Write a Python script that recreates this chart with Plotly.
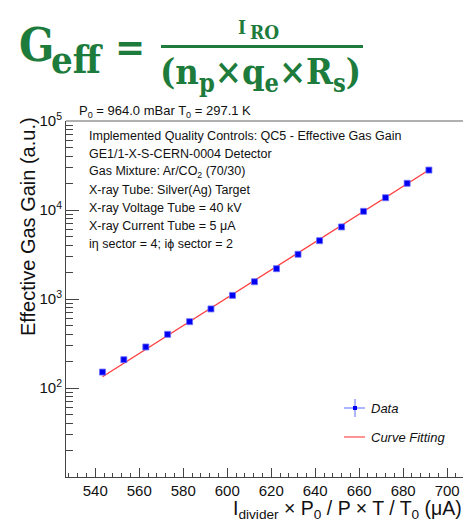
import plotly.graph_objects as go

# Corriente normalizada (uA) y ganancia efectiva medida
corriente = [543.3, 553.0, 563.0, 572.9, 582.9, 592.6, 602.4, 612.4,
             622.4, 632.2, 642.0, 652.0, 662.0, 672.0, 681.8, 691.7]
ganancia = [151, 208, 289, 401, 556, 773, 1097, 1563,
            2190, 3180, 4520, 6450, 9660, 13740, 19950, 28100]

# Curva de ajuste (exponencial, recta en escala log)
ajuste_x = [543.3, 691.7]
ajuste_y = [134, 28100]

y_ticks = [100, 1000, 10000, 100000]
y_ticktext = ["10<sup>2</sup>", "10<sup>3</sup>", "10<sup>4</sup>", "10<sup>5</sup>"]

info = [
    "Implemented Quality Controls: QC5 - Effective Gas Gain",
    "GE1/1-X-S-CERN-0004 Detector",
    "Gas Mixture: Ar/CO<sub>2</sub> (70/30)",
    "X-ray Tube: Silver(Ag) Target",
    "X-ray Voltage Tube = 40 kV",
    "X-ray Current Tube = 5 μA",
    "iη sector = 4; iϕ sector = 2",
]

W, H = 463, 519
L, T, B = 66, 121, 42
PW, PH = W - L, H - T - B


def px(x):
    return (x - L) / PW


def py(y):
    return (H - B - y) / PH


VERDE = "#1d7b3c"
SERIF = "DejaVu Serif Condensed, DejaVu Serif, serif"
SANS = "Liberation Sans, Arial, sans-serif"

fig = go.Figure()

fig.add_trace(go.Scatter(
    x=ajuste_x, y=ajuste_y, mode="lines",
    line=dict(color="#ff3b3b", width=1.3),
    showlegend=False, hoverinfo="skip"
))

fig.add_trace(go.Scatter(
    x=corriente, y=ganancia, mode="markers",
    marker=dict(symbol="square", size=6, color="#0000f0",
                line=dict(color="rgba(110,110,255,0.8)", width=1)),
    showlegend=False
))

minor_y = [m * 10 ** e for e in range(1, 5) for m in range(2, 10)]

fig.update_xaxes(
    range=[526.7, 707.2], tick0=540, dtick=20,
    ticks="inside", ticklen=9, tickcolor="#444",
    minor=dict(ticks="inside", ticklen=4.5, dtick=4, tickcolor="#444"),
    showline=True, linecolor="#444", linewidth=1,
    showgrid=False, zeroline=False,
    tickfont=dict(family=SANS, size=15, color="#111")
)
fig.update_yaxes(
    type="log", range=[1, 5],
    tickvals=y_ticks, ticktext=y_ticktext,
    ticks="inside", ticklen=13, tickcolor="#444",
    minor=dict(ticks="inside", ticklen=6.5, tickvals=minor_y, tickcolor="#444"),
    showline=True, linecolor="#444", linewidth=1,
    showgrid=False, zeroline=False,
    tickfont=dict(family=SANS, size=15, color="#111")
)

anns = []

# Fórmula
anns.append(dict(x=px(17), y=py(45), text="<b>G</b>", xanchor="left", yanchor="middle",
                 font=dict(family=SERIF, size=46, color=VERDE)))
anns.append(dict(x=px(49), y=py(60), text="<b>eff</b>", xanchor="left", yanchor="middle",
                 font=dict(family=SERIF, size=38, color=VERDE)))
anns.append(dict(x=px(130), y=py(46), text="<b>=</b>", xanchor="center", yanchor="middle",
                 font=dict(family=SERIF, size=40, color=VERDE)))
anns.append(dict(x=px(236), y=py(27), text="<b>I</b>", xanchor="left", yanchor="middle",
                 font=dict(family=SERIF, size=19, color=VERDE)))
anns.append(dict(x=px(248), y=py(32), text="<b>RO</b>", xanchor="left", yanchor="middle",
                 font=dict(family=SERIF, size=19, color=VERDE)))
anns.append(dict(x=px(260), y=py(74), text="<b>(n<sub>p</sub>×q<sub>e</sub>×R<sub>s</sub>)</b>",
                 xanchor="center", yanchor="middle",
                 font=dict(family=SERIF, size=36, color=VERDE)))

# Condiciones de referencia
anns.append(dict(x=px(77), y=py(111), text="P<sub>0</sub> = 964.0 mBar T<sub>0</sub> = 297.1 K",
                 xanchor="left", yanchor="middle",
                 font=dict(family=SANS, size=13, color="#111")))

for i, linea in enumerate(info):
    anns.append(dict(x=px(87), y=py(135.7 + 18.1 * i), text=linea,
                     xanchor="left", yanchor="middle",
                     font=dict(family=SANS, size=12.5, color="#111")))

# Títulos de ejes
anns.append(dict(x=px(28), y=py(227), text="Effective Gas Gain (a.u.)", textangle=-90,
                 xanchor="center", yanchor="middle",
                 font=dict(family=SANS, size=20, color="#111")))
anns.append(dict(x=px(231), y=py(509), text="I<sub>divider</sub> × P<sub>0</sub> / P × T / T<sub>0</sub> (μA)",
                 xanchor="left", yanchor="middle",
                 font=dict(family=SANS, size=19.5, color="#111")))

# Leyenda
anns.append(dict(x=px(369), y=py(408), text="<i>Data</i>", xanchor="left", yanchor="middle",
                 font=dict(family=SANS, size=13, color="#111")))
anns.append(dict(x=px(369), y=py(437), text="<i>Curve Fitting</i>", xanchor="left", yanchor="middle",
                 font=dict(family=SANS, size=13, color="#111")))

for a in anns:
    a.update(xref="paper", yref="paper", showarrow=False)

shapes = [
    # barra de la fracción
    dict(type="line", x0=px(161), x1=px(363), y0=py(46.5), y1=py(46.5),
         line=dict(color=VERDE, width=3)),
    # borde superior del marco
    dict(type="line", x0=0, x1=1, y0=1, y1=1, line=dict(color="#b0b0b0", width=2)),
    # símbolos de leyenda
    dict(type="line", x0=px(344), x1=px(365), y0=py(408), y1=py(408),
         line=dict(color="#5a6cff", width=1)),
    dict(type="line", x0=px(355), x1=px(355), y0=py(399), y1=py(417),
         line=dict(color="#5a6cff", width=1)),
    dict(type="rect", x0=px(353), x1=px(357), y0=py(406), y1=py(410),
         fillcolor="#0000f0", line=dict(width=0)),
    dict(type="line", x0=px(344), x1=px(365), y0=py(437), y1=py(437),
         line=dict(color="#ff5a5a", width=1.3)),
]
for s in shapes:
    s.update(xref="paper", yref="paper")

fig.update_layout(
    width=W, height=H,
    margin=dict(l=L, r=0, t=T, b=B),
    paper_bgcolor="white", plot_bgcolor="white",
    annotations=anns, shapes=shapes,
    showlegend=False
)

fig.write_html("out.html", config={"displayModeBar": False},
               post_script="document.body.style.margin='0px';document.body.style.overflow='hidden';")
